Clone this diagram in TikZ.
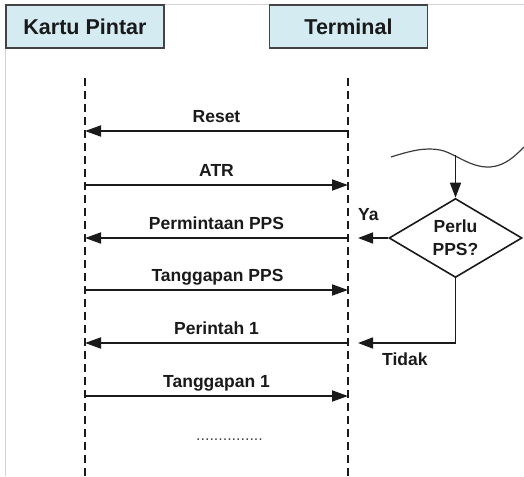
\documentclass[tikz,border=0pt]{standalone}
\usepackage{fontspec}
\setmainfont{Liberation Sans}
\usetikzlibrary{arrows.meta,shapes.geometric}
\definecolor{hdrfill}{HTML}{D4EBF2}
\definecolor{hdrdraw}{HTML}{444444}
\definecolor{ink}{HTML}{1A1A1A}
\tikzset{
  hdr/.style={draw=hdrdraw, line width=1.6pt, fill=hdrfill, minimum width=158pt, minimum height=43pt, inner sep=0pt, font=\fontsize{21.5}{24}\selectfont\bfseries, text=ink},
  life/.style={draw=ink, line width=1.8pt, dash pattern=on 8pt off 5pt},
  msg/.style={draw=ink, line width=1.8pt, -{Triangle[length=16pt,width=11pt]}},
  lbl/.style={anchor=base, font=\fontsize{17.5}{20}\selectfont\bfseries, text=ink, inner sep=0pt},
  flow/.style={draw=ink, line width=1.6pt, -{Triangle[length=15pt,width=11pt]}},
  dec/.style={diamond, draw=ink, line width=1.6pt, minimum width=133pt, minimum height=79pt, aspect=1.68, inner sep=0pt, align=center, font=\fontsize{17.5}{23}\selectfont\bfseries, text=ink}
}
\begin{document}
\begin{tikzpicture}[x=1pt,y=-1pt]
\useasboundingbox (0,0) rectangle (524,476);
\fill[white] (0,0) rectangle (524,476);
\draw[gray!35, line width=0.8pt] (5.5,476) -- (5.5,4.5) -- (524,4.5);
% headers
\node[hdr] (kp) at (85,26.5) {Kartu Pintar};
\node[hdr] (tm) at (348.5,26.5) {Terminal};
% lifelines
\coordinate (Ltop) at (85,78);
\coordinate (Lbot) at (85,476);
\coordinate (Rtop) at (348,78);
\coordinate (Rbot) at (348,476);
\draw[life] (Ltop) -- (Lbot);
\draw[life] (Rtop) -- (Rbot);
% message coordinates
\foreach \n/\y in {1/131,2/185,3/238,4/290,5/343,6/396}{
  \coordinate (L\n) at (85,\y);
  \coordinate (R\n) at (348,\y);
}
\draw[msg] (R1) -- (L1);
\draw[msg] (L2) -- (R2);
\draw[msg] (R3) -- (L3);
\draw[msg] (L4) -- (R4);
\draw[msg] (R5) -- (L5);
\draw[msg] (L6) -- (R6);
\node[lbl] (t1) at (216.5,122) {Reset};
\node[lbl] (t2) at (216.5,176) {ATR};
\node[lbl] (t3) at (216.5,229) {Permintaan PPS};
\node[lbl] (t4) at (217.5,281) {Tanggapan PPS};
\node[lbl] (t5) at (216.5,334) {Perintah 1};
\node[lbl] (t6) at (216.5,387) {Tanggapan 1};
\node[anchor=base, inner sep=0pt, font=\fontsize{16}{18}\selectfont, text=ink!80] (dots) at (229.5,440) {...............};
% flowchart
\draw[ink!85, line width=1.2pt] (391,157) .. controls (410,151) and (425,147) .. (440,150) .. controls (455,153) and (470,168) .. (490,167) .. controls (505,166) and (515,156) .. (524,147);
\node[dec] (d) at (455.5,238) {Perlu\\PPS?};
\coordinate (w) at (455.5,155);
\draw[flow] (w) -- (d.north);
\coordinate (ya) at (358,238);
\draw[flow] (d.west) -- (ya);
\coordinate (tk) at (358,343);
\draw[flow] (d.south) |- (tk);
\node[anchor=base west, inner sep=0pt, font=\fontsize{17.5}{20}\selectfont\bfseries, text=ink] (yal) at (358,220) {Ya};
\node[anchor=base west, inner sep=0pt, font=\fontsize{17.5}{20}\selectfont\bfseries, text=ink] (tkl) at (382,365) {Tidak};
\end{tikzpicture}
\end{document}
